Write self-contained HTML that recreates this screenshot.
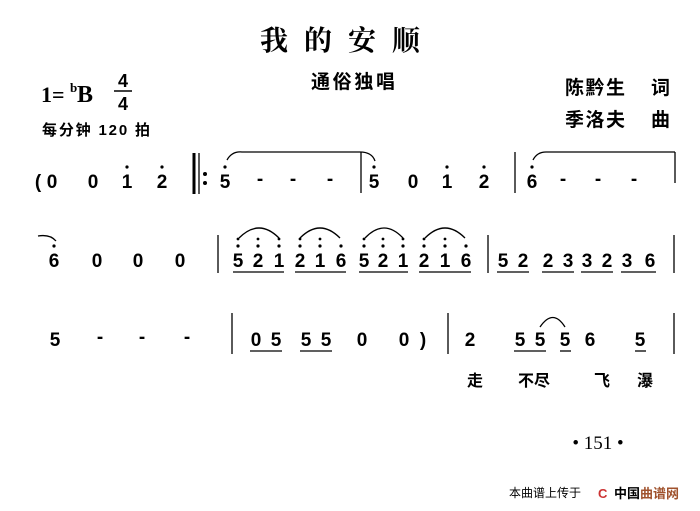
<!DOCTYPE html>
<html><head><meta charset="utf-8"><style>
html,body{margin:0;padding:0;background:#fff;}
svg{display:block;}
.n{font-family:"Liberation Sans",sans-serif;font-weight:bold;font-size:19px;text-anchor:middle;fill:#000;}
.c{font-family:"Liberation Sans","Noto Sans CJK SC",sans-serif;font-weight:bold;fill:#000;}
</style></head><body>
<svg width="700" height="511" viewBox="0 0 700 511" xmlns="http://www.w3.org/2000/svg">
<g class="c">
<text x="348" y="50" font-size="28" text-anchor="middle" letter-spacing="16" font-family="Noto Serif CJK SC,serif">我的安顺</text>
<text x="41" y="102" font-size="22" font-family="Liberation Serif,serif">1=</text>
<text x="70" y="92" font-size="13" font-family="Liberation Serif,serif">b</text>
<text x="77" y="102" font-size="24" font-family="Liberation Serif,serif">B</text>
<text x="123" y="87" font-size="18" text-anchor="middle">4</text>
<line x1="114" y1="91" x2="132" y2="91" stroke="#000" stroke-width="1.5"/>
<text x="123" y="110" font-size="18" text-anchor="middle">4</text>
<text x="42" y="135" font-size="15" textLength="108">每分钟 120 拍</text>
<text x="311" y="88" font-size="19" textLength="84">通俗独唱</text>
<text x="565" y="94" font-size="19" textLength="60">陈黔生</text><text x="651" y="94" font-size="19">词</text>
<text x="565" y="126" font-size="19" textLength="60">季洛夫</text><text x="651" y="126" font-size="19">曲</text>
<text x="475" y="386" font-size="16" text-anchor="middle">走</text>
<text x="534" y="386" font-size="16" text-anchor="middle">不尽</text>
<text x="602" y="386" font-size="16" text-anchor="middle">飞</text>
<text x="645" y="386" font-size="16" text-anchor="middle">瀑</text>
<text x="598" y="449" font-size="19" text-anchor="middle" font-weight="normal" font-family="Liberation Serif,serif">• 151 •</text>
<text x="509" y="497" font-size="12" font-weight="normal">本曲谱上传于</text>
<text x="598" y="498" font-size="13" fill="#c33">C</text>
<text x="614" y="498" font-size="13">中国</text>
<text x="640" y="498" font-size="13" fill="#a0522d">曲谱网</text>
</g>
<g class="n">
<text x="38" y="188">(</text>
<text x="52" y="188">0</text><text x="93" y="188">0</text><text x="127" y="188">1</text><text x="162" y="188">2</text>
<text x="225" y="188">5</text><text x="260" y="185">-</text><text x="293" y="185">-</text><text x="330" y="185">-</text>
<text x="374" y="188">5</text><text x="413" y="188">0</text><text x="447" y="188">1</text><text x="484" y="188">2</text>
<text x="532" y="188">6</text><text x="563" y="185">-</text><text x="598" y="185">-</text><text x="634" y="185">-</text>
<text x="54" y="267">6</text><text x="97" y="267">0</text><text x="138" y="267">0</text><text x="180" y="267">0</text>
<text x="238" y="267">5</text><text x="258" y="267">2</text><text x="279" y="267">1</text>
<text x="300" y="267">2</text><text x="320" y="267">1</text><text x="341" y="267">6</text>
<text x="364" y="267">5</text><text x="383" y="267">2</text><text x="403" y="267">1</text>
<text x="424" y="267">2</text><text x="445" y="267">1</text><text x="466" y="267">6</text>
<text x="503" y="267">5</text><text x="523" y="267">2</text><text x="548" y="267">2</text><text x="568" y="267">3</text>
<text x="587" y="267">3</text><text x="607" y="267">2</text><text x="627" y="267">3</text><text x="650" y="267">6</text>
<text x="55" y="346">5</text><text x="100" y="343">-</text><text x="142" y="343">-</text><text x="187" y="343">-</text>
<text x="256" y="346">0</text><text x="276" y="346">5</text><text x="306" y="346">5</text><text x="326" y="346">5</text>
<text x="362" y="346">0</text><text x="404" y="346">0</text><text x="423" y="346">)</text>
<text x="470" y="346">2</text><text x="520" y="346">5</text><text x="540" y="346">5</text><text x="565" y="346">5</text>
<text x="590" y="346">6</text><text x="640" y="346">5</text>
</g>
<g fill="#000">
<circle cx="127" cy="167" r="1.6"/><circle cx="162" cy="167" r="1.6"/><circle cx="225" cy="167" r="1.6"/>
<circle cx="374" cy="167" r="1.6"/><circle cx="447" cy="167" r="1.6"/><circle cx="484" cy="167" r="1.6"/><circle cx="532" cy="167" r="1.6"/>
<circle cx="54" cy="246" r="1.6"/>
<circle cx="238" cy="246" r="1.6"/><circle cx="258" cy="246" r="1.6"/><circle cx="279" cy="246" r="1.6"/>
<circle cx="300" cy="246" r="1.6"/><circle cx="320" cy="246" r="1.6"/><circle cx="341" cy="246" r="1.6"/>
<circle cx="364" cy="246" r="1.6"/><circle cx="383" cy="246" r="1.6"/><circle cx="403" cy="246" r="1.6"/>
<circle cx="424" cy="246" r="1.6"/><circle cx="445" cy="246" r="1.6"/><circle cx="466" cy="246" r="1.6"/>
<circle cx="238" cy="239" r="1.4"/><circle cx="258" cy="239" r="1.4"/><circle cx="279" cy="239" r="1.4"/>
<circle cx="300" cy="239" r="1.4"/><circle cx="320" cy="239" r="1.4"/>
<circle cx="364" cy="239" r="1.4"/><circle cx="383" cy="239" r="1.4"/><circle cx="403" cy="239" r="1.4"/>
<circle cx="424" cy="239" r="1.4"/><circle cx="445" cy="239" r="1.4"/>
<circle cx="205" cy="174" r="2"/><circle cx="205" cy="183" r="2"/>
</g>
<g stroke="#000" fill="none" stroke-width="1.3">
<line x1="194" y1="153" x2="194" y2="194" stroke-width="3"/><line x1="199" y1="153" x2="199" y2="194"/>
<line x1="361" y1="152" x2="361" y2="193"/><line x1="515" y1="152" x2="515" y2="193"/><line x1="675" y1="152" x2="675" y2="183"/>
<line x1="218" y1="235" x2="218" y2="273"/><line x1="488" y1="235" x2="488" y2="273"/><line x1="674" y1="235" x2="674" y2="273"/>
<line x1="232" y1="313" x2="232" y2="354"/><line x1="448" y1="313" x2="448" y2="354"/><line x1="674" y1="313" x2="674" y2="354"/>
<path d="M227 160 Q232 151 242 152 L360 152 Q372 152 375 161"/>
<path d="M533 160 Q537 152 546 152 L675 152"/>
<path d="M38 236 Q50 234 56 241"/>
<path d="M239 238 Q259 218 279 238"/><path d="M300 238 Q320 218 340 238"/>
<path d="M365 238 Q384 218 403 238"/><path d="M425 238 Q445 218 465 238"/>
<path d="M540 327 Q553 308 565 327"/>
<line x1="233" y1="272" x2="284" y2="272"/><line x1="295" y1="272" x2="346" y2="272"/>
<line x1="359" y1="272" x2="408" y2="272"/><line x1="419" y1="272" x2="471" y2="272"/>
<line x1="497" y1="272" x2="529" y2="272"/><line x1="542" y1="272" x2="574" y2="272"/>
<line x1="581" y1="272" x2="613" y2="272"/><line x1="621" y1="272" x2="656" y2="272"/>
<line x1="250" y1="351" x2="282" y2="351"/><line x1="300" y1="351" x2="332" y2="351"/>
<line x1="514" y1="351" x2="546" y2="351"/><line x1="560" y1="351" x2="571" y2="351"/><line x1="635" y1="351" x2="646" y2="351"/>
</g>
</svg>
</body></html>
